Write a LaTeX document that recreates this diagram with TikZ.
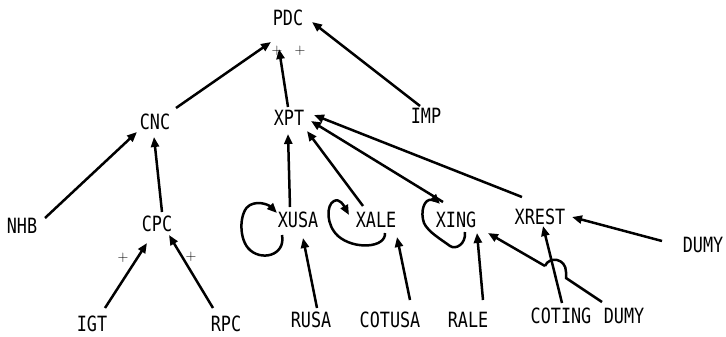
\documentclass[tikz,border=0pt]{standalone}
\usepackage{fontspec}
\setmonofont[FakeStretch=0.8]{DejaVu Sans Mono}
\usetikzlibrary{arrows.meta}
\begin{document}
\begin{tikzpicture}[x=1pt,y=-1pt,
  lbl/.style={font=\ttfamily\fontsize{21}{21}\selectfont, inner sep=0pt, anchor=center},
  pl/.style={font=\fontsize{15}{15}\selectfont, inner sep=0pt, anchor=center},
  arr/.style={line width=2.5pt, -{Triangle[length=10pt,width=8pt]}},
  ln/.style={line width=2.5pt}]
\useasboundingbox (0,0) rectangle (726,337);
% nodes
\node[lbl] (PDC) at (288,18) {PDC};
\node[lbl] (IMP) at (426,116) {IMP};
\node[lbl] (XPT) at (289,118) {XPT};
\node[lbl] (CNC) at (155,122) {CNC};
\node[lbl] (NHB) at (22,226) {NHB};
\node[lbl] (CPC) at (157,224) {CPC};
\node[lbl] (IGT) at (92,324) {IGT};
\node[lbl] (RPC) at (226,324) {RPC};
\node[lbl] (XUSA) at (298,220) {XUSA};
\node[lbl] (XALE) at (376,220) {XALE};
\node[lbl] (XING) at (456,220) {XING};
\node[lbl] (XREST) at (540,217) {XREST};
\node[lbl] (DUMYa) at (703,245) {DUMY};
\node[lbl] (RUSA) at (311,320) {RUSA};
\node[lbl] (COTUSA) at (390,320) {COTUSA};
\node[lbl] (RALE) at (468,320) {RALE};
\node[lbl] (COTING) at (561,316) {COTING};
\node[lbl] (DUMYb) at (624,316) {DUMY};
% plus signs
\node[pl] (p1) at (277,51) {+};
\node[pl] (p2) at (300,51) {+};
\node[pl] (p3) at (123,258) {+};
\node[pl] (p4) at (191,257) {+};
% connectors
\draw[arr] ([shift={(21,-14)}]CNC.center) -- ([shift={(-17,24)}]PDC.center);
\draw[arr] ([shift={(-1,-11)}]XPT.center) -- ([shift={(-9,31)}]PDC.center);
\draw[arr] ([shift={(-6,-10)}]IMP.center) -- ([shift={(24,4)}]PDC.center);
\draw[arr] ([shift={(5,-12)}]CPC.center) -- ([shift={(-1,15)}]CNC.center);
\draw[arr] ([shift={(23,-8)}]NHB.center) -- ([shift={(-18,10)}]CNC.center);
\draw[arr] ([shift={(13,-16)}]IGT.center) -- ([shift={(-10,19)}]CPC.center);
\draw[arr] ([shift={(-13,-16)}]RPC.center) -- ([shift={(12,11)}]CPC.center);
\draw[arr] ([shift={(-8,-13)}]XUSA.center) -- ([shift={(-1,16)}]XPT.center);
\draw[arr] ([shift={(-13,-14)}]XALE.center) -- ([shift={(18,13)}]XPT.center);
\draw[arr] ([shift={(-13,-18)}]XING.center) -- ([shift={(22,3)}]XPT.center);
\draw[arr] ([shift={(-18,-20)}]XREST.center) -- ([shift={(25,-3)}]XPT.center);
\draw[arr] ([shift={(6,-12)}]RUSA.center) -- ([shift={(5,18)}]XUSA.center);
\draw[arr] ([shift={(20,-20)}]COTUSA.center) -- ([shift={(21,17)}]XALE.center);
\draw[arr] ([shift={(15,-20)}]RALE.center) -- ([shift={(21,13)}]XING.center);
\draw[arr] ([shift={(1,-13)}]COTING.center) -- ([shift={(3,9)}]XREST.center);
\draw[arr] ([shift={(-41,-4)}]DUMYa.center) -- ([shift={(32,0)}]XREST.center);
% DUMY -> XING with a hop over the COTING line
\coordinate (h1) at (566,278);
\coordinate (h2) at (545,266);
\draw[ln] ([shift={(-22,-14)}]DUMYb.center) -- (h1) -- ++(0,-6) .. controls (566,258) and (549,256) .. (h2);
\draw[arr] (h2) -- ([shift={(32,13)}]XING.center);
% self loops
\begin{scope}[shift={(XUSA.center)}]
\draw[arr] (-16,15) .. controls (-12,36) and (-38,42) .. (-50,28)
  .. controls (-60,16) and (-58,-10) .. (-48,-15)
  .. controls (-38,-20) and (-28,-14) .. (-21,-7);
\end{scope}
\begin{scope}[shift={(XALE.center)}]
\draw[arr] (9,13) .. controls (10,28) and (-22,30) .. (-38,16)
  .. controls (-50,5) and (-50,-15) .. (-42,-19)
  .. controls (-36,-22) and (-32,-14) .. (-27,-5);
\end{scope}
\begin{scope}[shift={(XING.center)}]
\draw[arr] (9,12) .. controls (10,24) and (0,30) .. (-6,26)
  .. controls (-14,20) and (-28,12) .. (-32,3)
  .. controls (-36,-8) and (-32,-22) .. (-24,-20)
  .. controls (-20,-19) and (-18,-18) .. (-16,-16);
\end{scope}
\end{tikzpicture}
\end{document}
